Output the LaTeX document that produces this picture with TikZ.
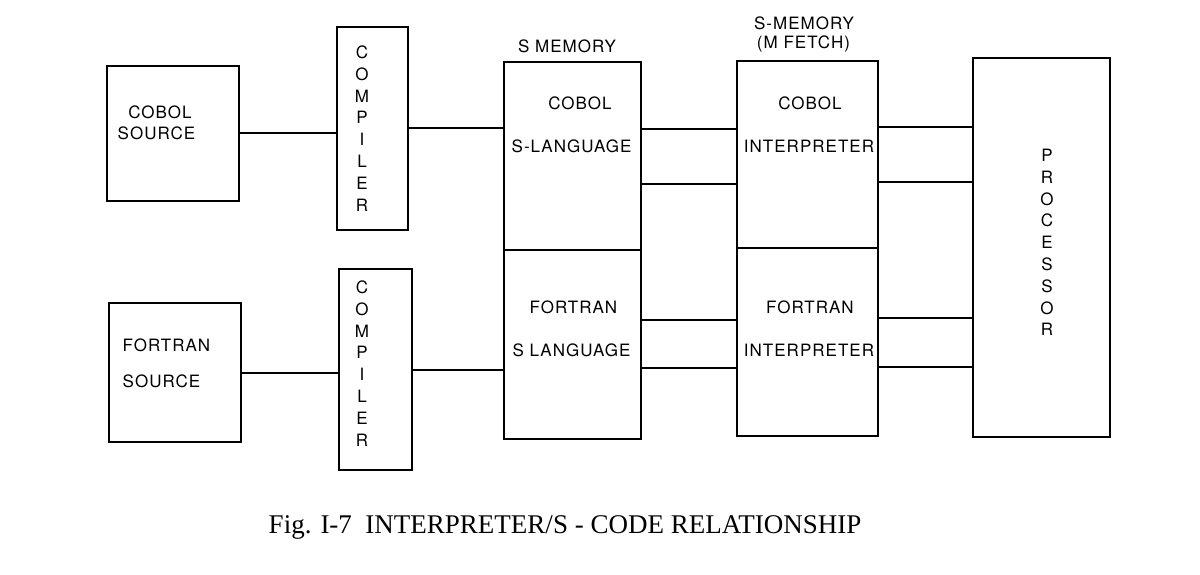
\documentclass[tikz,border=0pt]{standalone}
\usepackage{fontspec}
\newfontfamily\labelfont{TeX Gyre Heros}[LetterSpace=6]
\newfontfamily\capfont{Liberation Serif}
\usetikzlibrary{positioning, calc}
\tikzset{
  box/.style={
    draw,
    line width=2pt,
    inner sep=0pt,
  },
  lbl/.style={
    font=\labelfont\fontsize{17}{20}\selectfont,
    inner sep=0pt,
    anchor=center,
  },
  vlbl/.style={
    font=\labelfont\fontsize{17}{21.8}\selectfont,
    align=center,
    inner sep=0pt,
  },
  wire/.style={line width=2pt},
}

\begin{document}
\begin{tikzpicture}[x=1pt, y=-1pt]
\useasboundingbox (0,0) rectangle (1200,575);

% Sources
\node[box, minimum width=132pt, minimum height=135pt] (srcC) at (173,133.5) {};
\node[box, minimum width=132pt, minimum height=139pt] (srcF) at (175,372.5) {};
\node[lbl] (srcCa) at (160,112) {COBOL};
\node[lbl] (srcCb) at (156.5,133) {SOURCE};
\node[lbl] (srcFa) at (166.5,345) {FORTRAN};
\node[lbl] (srcFb) at (161.5,381) {SOURCE};

% Compilers
\node[box, minimum width=71pt, minimum height=203pt] (compC) at (372.5,128.5) {};
\node[box, minimum width=73pt, minimum height=201pt] (compF) at (375.5,369.5) {};
\node[vlbl] (compCt) at (362,128.5) {C\\O\\M\\P\\I\\L\\E\\R};
\node[vlbl] (compFt) at (362,363.5) {C\\O\\M\\P\\I\\L\\E\\R};

% S memory
\node[box, minimum width=137pt, minimum height=188pt] (smemC) at (572.5,156) {};
\node[box, minimum width=137pt, minimum height=189pt] (smemF) at (572.5,344.5) {};
\node[lbl] (smemt) at (567,46) {S MEMORY};
\node[lbl] (smemCa) at (580,103) {COBOL};
\node[lbl] (smemCb) at (571.5,146) {S-LANGUAGE};
\node[lbl] (smemFa) at (573.5,307) {FORTRAN};
\node[lbl] (smemFb) at (571.5,350) {S LANGUAGE};

% Interpreters
\node[box, minimum width=141pt, minimum height=187pt] (intC) at (807.5,154.5) {};
\node[box, minimum width=141pt, minimum height=188pt] (intF) at (807.5,342) {};
\node[lbl] (intta) at (804,23) {S-MEMORY};
\node[lbl] (inttb) at (803.5,44) {(M FETCH)};
\node[lbl] (intCa) at (810,103) {COBOL};
\node[lbl] (intCb) at (809,146) {INTERPRETER};
\node[lbl] (intFa) at (810,307) {FORTRAN};
\node[lbl] (intFb) at (809,350) {INTERPRETER};

% Processor
\node[box, minimum width=137pt, minimum height=379pt] (proc) at (1041.5,247.5) {};
\node[vlbl] (proct) at (1047,242.5) {P\\R\\O\\C\\E\\S\\S\\O\\R};

% --- Connectors --------------------------------------------------------
\draw[wire] (srcC.east) -- (srcC.east -| compC.west);
\draw[wire] (srcF.east) -- (srcF.east -| compF.west);
\draw[wire] (compC.east) -- (compC.east -| smemC.west);
\draw[wire] (compF.east) -- (compF.east -| smemF.west);
\foreach \a/\b/\s in {smemC/intC/27, smemC/intC/-28, smemF/intF/24.5, smemF/intF/-23.5,
                      intC/proc/27.5, intC/proc/-27.5, intF/proc/24, intF/proc/-25}
  {\draw[wire] ([yshift=\s pt]\a.east) -- ([yshift=\s pt]\a.east -| \b.west);}

% Caption
\node[font=\capfont\fontsize{27}{31}\selectfont, inner sep=0pt] (cap) at (565,527)
  {Fig. I-7\enspace INTERPRETER/S - CODE RELATIONSHIP};

\end{tikzpicture}
\end{document}
